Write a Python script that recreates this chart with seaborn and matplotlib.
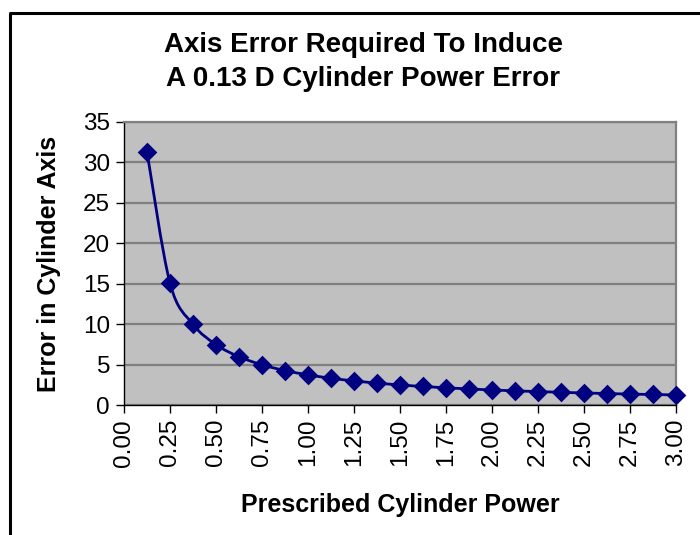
import numpy as np
import pandas as pd
import matplotlib
matplotlib.use("Agg")
import matplotlib.pyplot as plt
import seaborn as sns
from matplotlib.path import Path
from matplotlib.patches import PathPatch
from matplotlib.lines import Line2D

# Data
cyl_power = [0.125, 0.25, 0.375, 0.5, 0.625, 0.75, 0.875, 1.0, 1.125, 1.25,
             1.375, 1.5, 1.625, 1.75, 1.875, 2.0, 2.125, 2.25, 2.375, 2.5,
             2.625, 2.75, 2.875, 3.0]
axis_error = [31.3, 15.07, 9.98, 7.47, 5.97, 4.97, 4.26, 3.73, 3.31, 2.98,
              2.71, 2.48, 2.29, 2.13, 1.99, 1.86, 1.75, 1.66, 1.57, 1.49,
              1.42, 1.35, 1.30, 1.24]
x_ticks = [0.0, 0.25, 0.5, 0.75, 1.0, 1.25, 1.5, 1.75, 2.0, 2.25, 2.5, 2.75, 3.0]
x_tick_labels = ["0.00", "0.25", "0.50", "0.75", "1.00", "1.25", "1.50",
                 "1.75", "2.00", "2.25", "2.50", "2.75", "3.00"]
y_ticks = [0, 5, 10, 15, 20, 25, 30, 35]

df = pd.DataFrame({"power": cyl_power, "error": axis_error})

sns.set_theme(style="white")
plt.rcParams["font.family"] = ["Liberation Sans", "DejaVu Sans"]
plt.rcParams["text.color"] = "black"
plt.rcParams["axes.labelcolor"] = "black"
plt.rcParams["xtick.color"] = "black"
plt.rcParams["ytick.color"] = "black"

fig = plt.figure(figsize=(7.0, 5.35), dpi=100)
ax = fig.add_axes([124/700, 1-405/535, (676-124)/700, (405-122)/535])
ax.set_facecolor("#C0C0C0")

navy = "#000080"

# Smoothed line (Catmull-Rom style Bezier, as in spreadsheet smoothing)
pts = np.column_stack([df["power"].to_numpy(), df["error"].to_numpy()])
verts = [tuple(pts[0])]
codes = [Path.MOVETO]
n = len(pts)
for i in range(n - 1):
    p0 = pts[i - 1] if i > 0 else pts[i]
    p1 = pts[i]
    p2 = pts[i + 1]
    p3 = pts[i + 2] if i + 2 < n else pts[i + 1]
    c1 = p1 + (p2 - p0) / 6.0
    c2 = p2 - (p3 - p1) / 6.0
    verts += [tuple(c1), tuple(c2), tuple(p2)]
    codes += [Path.CURVE4] * 3
patch = PathPatch(Path(verts, codes), facecolor="none", edgecolor=navy,
                  lw=2.0, zorder=3, clip_on=False)
ax.add_patch(patch)

sns.scatterplot(data=df, x="power", y="error", marker="D", s=100,
                color=navy, edgecolor=navy, linewidth=0, zorder=4,
                ax=ax, clip_on=False, legend=False)

ax.set_xlim(0, 3.0)
ax.set_ylim(0, 35)
ax.set_yticks(y_ticks)
ax.set_yticklabels([str(v) for v in y_ticks], fontsize=17.5, color="black")
ax.set_xticks(x_ticks)
ax.set_xticklabels(x_tick_labels, rotation=90, fontsize=17.5, color="black")
ax.grid(axis="y", color="#808080", lw=1.6)
ax.grid(axis="x", visible=False)
ax.set_axisbelow(True)
for s in ax.spines.values():
    s.set_color("#808080")
    s.set_linewidth(1.6)
ax.spines["left"].set_color("black")
ax.spines["left"].set_linewidth(1.0)
ax.spines["bottom"].set_color("black")
ax.spines["bottom"].set_linewidth(1.0)
ax.tick_params(axis="both", which="major", direction="out", length=6,
               width=1, color="black", labelcolor="black", left=True,
               bottom=True, pad=4)

ax.set_xlabel("Prescribed Cylinder Power", fontsize=18, fontweight="bold",
              labelpad=19, color="black")
ax.set_ylabel("Error in Cylinder Axis", fontsize=18, fontweight="bold",
              labelpad=16, color="black")

fig.text(0.5 + 13/700, 1 - 45/535, "Axis Error Required To Induce",
         ha="center", va="center", fontsize=20, fontweight="bold", color="black")
fig.text(0.5 + 13/700, 1 - 79/535, "A 0.13 D Cylinder Power Error",
         ha="center", va="center", fontsize=20, fontweight="bold", color="black")

# Outer chart frame (top and left edges visible)
fig.add_artist(Line2D([10/700, 10/700, 1.0], [0.0, 1 - 12.5/535, 1 - 12.5/535],
                      transform=fig.transFigure, color="black", lw=2.2))

fig.savefig("out.png", dpi=100)
